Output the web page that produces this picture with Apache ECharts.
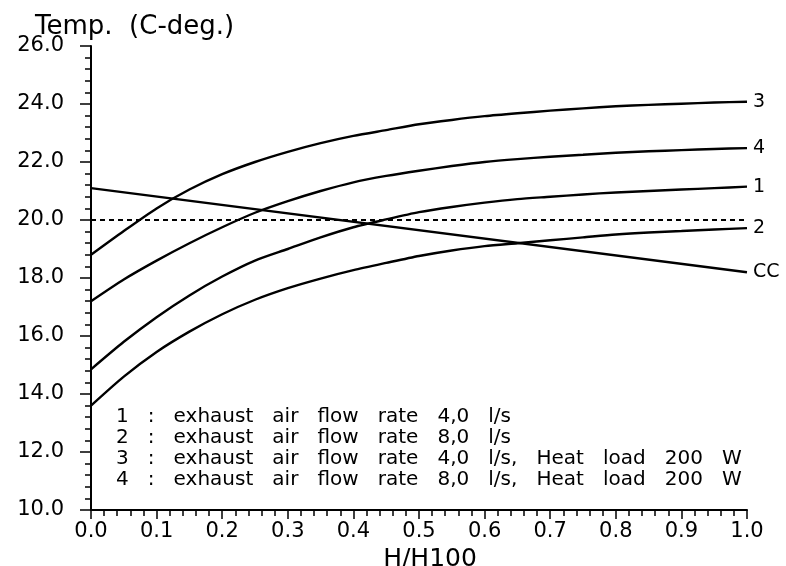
<!DOCTYPE html>
<html>
<head>
<meta charset="utf-8">
<script src="https://cdn.jsdelivr.net/npm/echarts@6/dist/echarts.min.js"></script>
<style>
html,body{margin:0;padding:0;background:#fff;}
#c{width:786px;height:566px;}
</style>
</head>
<body>
<div id="c"></div>
<script>
// H/H100 positions
var xs = [0, 0.05, 0.1, 0.15, 0.2, 0.25, 0.3, 0.35, 0.4, 0.45, 0.5, 0.55, 0.6, 0.65, 0.7, 0.75, 0.8, 0.85, 0.9, 0.95, 1.0];
// Temperatures (C-deg.)
var curve1 = [14.85, 15.8, 16.65, 17.4, 18.05, 18.6, 19.0, 19.4, 19.75, 20.02, 20.27, 20.45, 20.6, 20.72, 20.8, 20.88, 20.95, 21.0, 21.05, 21.1, 21.15];
var curve2 = [13.6, 14.6, 15.45, 16.15, 16.75, 17.25, 17.65, 17.98, 18.27, 18.52, 18.76, 18.95, 19.1, 19.2, 19.3, 19.4, 19.5, 19.57, 19.62, 19.67, 19.72];
var curve3 = [18.8, 19.62, 20.4, 21.05, 21.58, 22.0, 22.35, 22.65, 22.9, 23.1, 23.3, 23.45, 23.58, 23.68, 23.77, 23.85, 23.92, 23.97, 24.01, 24.05, 24.08];
var curve4 = [17.2, 17.95, 18.6, 19.2, 19.75, 20.25, 20.65, 21.0, 21.3, 21.52, 21.7, 21.86, 22.0, 22.1, 22.18, 22.25, 22.32, 22.37, 22.41, 22.45, 22.48];
var ccX = [0, 1.0];
var ccVals = [21.1, 18.2];
var refX = [0, 1.0];
var refVals = [20.0, 20.0];
var curveNames = ['1', '2', '3', '4', 'CC'];
var legendLines = [
  '1   :   exhaust   air   flow   rate   4,0   l/s',
  '2   :   exhaust   air   flow   rate   8,0   l/s',
  '3   :   exhaust   air   flow   rate   4,0   l/s,   Heat   load   200   W',
  '4   :   exhaust   air   flow   rate   8,0   l/s,   Heat   load   200   W'
];
var yTitle = 'Temp.  (C-deg.)';
var xTitle = 'H/H100';

function pairs(x, y) { return x.map(function (v, i) { return [v, y[i]]; }); }

var FONT = 'DejaVu Sans';
function curveSeries(name, x, y, smooth) {
  return {
    name: name, type: 'line', data: pairs(x, y),
    showSymbol: false, smooth: smooth,
    lineStyle: { color: '#000', width: 2.4 },
    endLabel: { show: true, formatter: name, color: '#000', fontFamily: FONT, fontSize: 19, distance: 6 },
    silent: true
  };
}

var chart = echarts.init(document.getElementById('c'), null, { renderer: 'canvas' });
chart.setOption({
  animation: false,
  backgroundColor: '#fff',
  title: {
    text: yTitle, left: 30, top: 9,
    textStyle: { fontFamily: FONT, fontSize: 26, fontWeight: 'normal', color: '#000' }
  },
  grid: { left: 91, right: 39, top: 46, bottom: 56, outerBoundsMode: 'none', containLabel: false },
  xAxis: {
    type: 'value', min: 0, max: 1, interval: 0.1,
    name: xTitle, nameLocation: 'middle', nameGap: 29,
    nameTextStyle: { fontFamily: FONT, fontSize: 25, color: '#000', padding: [0, 0, 0, 22] },
    axisLine: { lineStyle: { color: '#000', width: 2 } },
    axisTick: { show: true, length: 9, lineStyle: { color: '#000', width: 1.5 } },
    minorTick: { show: true, splitNumber: 5, length: 6, lineStyle: { color: '#000', width: 1.5 } },
    splitLine: { show: false },
    axisLabel: { formatter: function (v) { return v.toFixed(1); }, fontFamily: FONT, fontSize: 21, color: '#000', margin: 11 }
  },
  yAxis: {
    type: 'value', min: 10, max: 26, interval: 2,
    axisLine: { lineStyle: { color: '#000', width: 2 } },
    axisTick: { show: true, length: 11, lineStyle: { color: '#000', width: 1.5 } },
    minorTick: { show: true, splitNumber: 5, length: 6, lineStyle: { color: '#000', width: 1.5 } },
    splitLine: { show: false },
    axisLabel: { formatter: function (v) { return v.toFixed(1); }, fontFamily: FONT, fontSize: 21, color: '#000', margin: 27 }
  },
  series: [
    curveSeries(curveNames[0], xs, curve1, 0.25),
    curveSeries(curveNames[1], xs, curve2, 0.25),
    curveSeries(curveNames[2], xs, curve3, 0.25),
    curveSeries(curveNames[3], xs, curve4, 0.25),
    curveSeries(curveNames[4], ccX, ccVals, false),
    {
      name: 'ref', type: 'line', data: pairs(refX, refVals), showSymbol: false,
      lineStyle: { color: '#000', width: 2, type: [5, 4] }, silent: true
    }
  ],
  graphic: [{
    type: 'text', left: 116, top: 406,
    style: { text: legendLines.join('\n'), font: '20px "DejaVu Sans"', fill: '#000', lineHeight: 21 },
    silent: true
  }]
});
</script>
</body>
</html>
